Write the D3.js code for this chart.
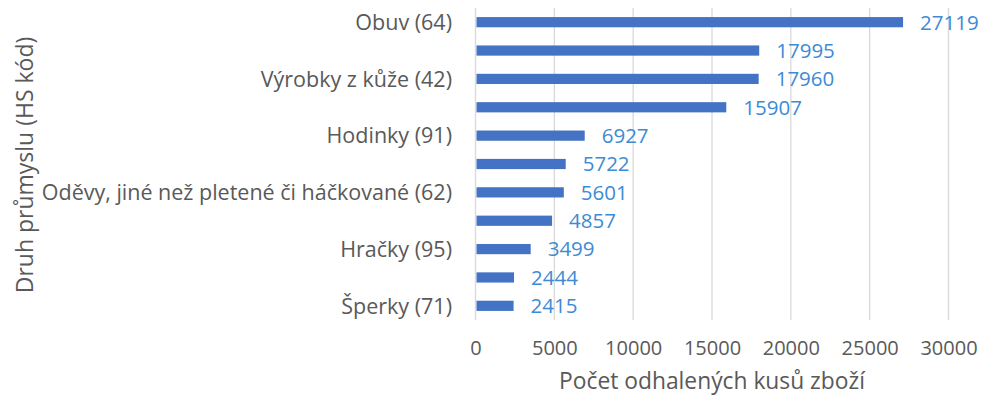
<html>
<head>
<meta charset="utf-8">
<style>
  body { margin: 0; background: #fff; }
  text { font-family: "Open Sans", sans-serif; }
</style>
</head>
<body>
<svg id="chart" width="988" height="401"></svg>
<script src="https://cdn.jsdelivr.net/npm/d3@7"></script>
<script>
// categories top to bottom; "" = label skipped in the original chart
const labels = ["Obuv (64)", "", "Výrobky z kůže (42)", "", "Hodinky (91)", "",
                "Oděvy, jiné než pletené či háčkované (62)", "", "Hračky (95)", "", "Šperky (71)"];
const values = [27119, 17995, 17960, 15907, 6927, 5722, 5601, 4857, 3499, 2444, 2415];
const xTicks = [0, 5000, 10000, 15000, 20000, 25000, 30000];

const svg = d3.select("#chart");
const plotLeft = 475.5, plotRight = 948.5, plotTop = 8, plotBottom = 320;

const x = d3.scaleLinear().domain([0, 30000]).range([plotLeft, plotRight]);
const y = d3.scaleBand().domain(d3.range(values.length)).range([plotTop, plotBottom]).paddingInner(0.64).paddingOuter(0.32);

// grid
svg.append("g").selectAll("line")
    .data(xTicks.slice(1))
    .enter().append("line")
    .attr("x1", d => x(d)).attr("x2", d => x(d))
    .attr("y1", plotTop).attr("y2", plotBottom)
    .attr("stroke", "#d9d9d9").attr("stroke-width", 1.3);

// category axis line
svg.append("line")
    .attr("x1", plotLeft).attr("x2", plotLeft).attr("y1", plotTop).attr("y2", plotBottom)
    .attr("stroke", "#d9d9d9").attr("stroke-width", 1.3);

// bars
svg.append("g").selectAll("rect")
    .data(values)
    .enter().append("rect")
    .attr("x", x(0) + 1)
    .attr("y", (d, i) => y(i))
    .attr("width", d => x(d) - x(0) - 1)
    .attr("height", y.bandwidth())
    .attr("fill", "#4472c4");

// data labels
svg.append("g").selectAll("text")
    .data(values)
    .enter().append("text")
    .attr("x", d => x(d) + 17)
    .attr("y", (d, i) => y(i) + y.bandwidth() / 2)
    .attr("dy", "0.36em")
    .attr("font-size", 20.5)
    .attr("fill", "#3d8bd4")
    .text(d => d);

// category labels
svg.append("g").selectAll("text")
    .data(labels)
    .enter().append("text")
    .attr("x", 452)
    .attr("y", (d, i) => y(i) + y.bandwidth() / 2)
    .attr("dy", "0.36em")
    .attr("text-anchor", "end")
    .attr("font-size", 21.5)
    .attr("fill", "#595959")
    .text(d => d);

// x axis tick labels
const xAxis = svg.append("g")
    .attr("transform", `translate(0,${plotBottom + 21})`)
    .call(d3.axisBottom(x).tickValues(xTicks).tickSize(0).tickPadding(0).tickFormat(d3.format("d")));
xAxis.select(".domain").remove();
xAxis.selectAll("text")
    .attr("font-family", "Open Sans, sans-serif")
    .attr("font-size", 20)
    .attr("fill", "#595959");

// axis titles
svg.append("text")
    .attr("x", (plotLeft + plotRight) / 2)
    .attr("y", 389)
    .attr("text-anchor", "middle")
    .attr("font-size", 22.8)
    .attr("fill", "#595959")
    .text("Počet odhalených kusů zboží");

svg.append("text")
    .attr("transform", "translate(33,165) rotate(-90)")
    .attr("text-anchor", "middle")
    .attr("font-size", 23)
    .attr("fill", "#595959")
    .text("Druh průmyslu (HS kód)");
</script>
</body>
</html>
